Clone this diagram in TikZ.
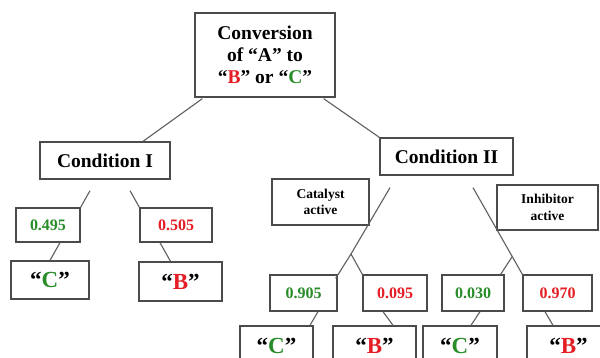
\documentclass[tikz,border=0pt]{standalone}
\usepackage{fontspec}
\setmainfont{Liberation Serif}
\usetikzlibrary{calc}
\definecolor{cgreen}{RGB}{40,140,40}
\definecolor{cred}{RGB}{228,30,36}
\definecolor{boxline}{RGB}{75,75,75}
\definecolor{conline}{RGB}{95,95,95}
\newcommand\gtxt[1]{\textcolor{cgreen}{#1}}
\newcommand\rtxt[1]{\textcolor{cred}{#1}}
\begin{document}
\begin{tikzpicture}[x=1pt,y=-1pt,
  box/.style={draw=boxline,line width=1.3pt,inner sep=0pt,align=center},
  bigfont/.style={font={\fontsize{19.5}{22}\selectfont\bfseries}},
  numfont/.style={font={\fontsize{16}{18}\selectfont\bfseries}},
  smallfont/.style={font={\fontsize{13.5}{16.5}\selectfont\bfseries}},
  quotefont/.style={font={\fontsize{23}{25}\selectfont\bfseries},text depth=0pt},
  numbox/.style={box,numfont,minimum height=36pt},
  resbox/.style={box,quotefont,minimum height=40pt},
  con/.style={draw=conline,line width=1.1pt}]
\useasboundingbox (0,0) rectangle (600,358);
\clip (0,0) rectangle (600,358);
\fill[white] (0,0) rectangle (600,358);

% top
\node[box,bigfont,minimum width=140pt,minimum height=84pt] (top) at (265,55)
  {Conversion\\of “A” to\\“\rtxt{B}” or “\gtxt{C}”};

% conditions
\node[box,bigfont,minimum width=130pt,minimum height=37pt] (condI) at (105,160.5) {Condition I};
\node[box,bigfont,minimum width=133pt,minimum height=37pt] (condII) at (446.5,156.5) {Condition II};

% side labels
\node[box,smallfont,minimum width=97pt,minimum height=46pt] (cat) at (320.5,202) {Catalyst\\active};
\node[box,smallfont,minimum width=101pt,minimum height=45pt] (inh) at (547.5,207.5) {Inhibitor\\active};

% condition I branch
\node[box,numfont,minimum width=64pt,minimum height=34pt] (n1) at (48,225) {\gtxt{0.495}};
\node[box,numfont,minimum width=72pt,minimum height=34pt] (n2) at (176,225) {\rtxt{0.505}};
\node[box,quotefont,minimum width=78pt,minimum height=38pt] (r1) at (50,280) {“\gtxt{C}”};
\node[box,quotefont,minimum width=83pt,minimum height=39pt] (r2) at (180.5,281.5) {“\rtxt{B}”};

% condition II branch
\node[numbox,minimum width=67pt] (n3) at (303.5,293) {\gtxt{0.905}};
\node[numbox,minimum width=64pt] (n4) at (395,293) {\rtxt{0.095}};
\node[numbox,minimum width=62pt] (n5) at (473,293) {\gtxt{0.030}};
\node[numbox,minimum width=69pt] (n6) at (557.5,293) {\rtxt{0.970}};
\node[resbox,minimum width=73pt] (r3) at (276.5,346) {“\gtxt{C}”};
\node[resbox,minimum width=83pt] (r4) at (374.5,346) {“\rtxt{B}”};
\node[resbox,minimum width=74pt] (r5) at (460,346) {“\gtxt{C}”};
\node[resbox,minimum width=83pt] (r6) at (568.5,346) {“\rtxt{B}”};

% connectors
\draw[con] ($(top.south west)+(8,1)$) -- ($(condI.north)+(38,0)$);
\draw[con] ($(top.south east)+(-12,1)$) -- (condII.north west);
\draw[con] ($(condI.south)+(-15,11)$) -- (n1.north east);
\draw[con] ($(condI.south)+(25,11)$) -- (n2.north west);
\draw[con] ($(n1.south)+(12,0)$) -- (r1.north);
\draw[con] ($(n2.south)+(-16,0)$) -- ($(r2.north)+(-10,0)$);

\coordinate (ap1) at (351,254);
\draw[con] ($(condII.south)+(-56.5,12)$) -- (ap1);
\draw[con] (ap1) -- ($(n3.north east)+(-2,4)$);
\draw[con] (ap1) -- (n4.north west);

\coordinate (s2) at ($(condII.south)+(26.5,12)$);
\draw[con] (s2) -- (n6.north west);
\coordinate (ap2) at ($(s2)!0.795!(n6.north west)$);
\draw[con] (ap2) -- ($(n5.north east)+(-4,0)$);

\draw[con] ($(n3.south)+(14.5,0)$) -- ($(r3.north)+(33.5,0)$);
\draw[con] ($(n4.south)+(-12,0)$) -- ($(r4.north)+(18.5,0)$);
\draw[con] ($(n5.south)+(7,0)$) -- ($(r5.north)+(11,0)$);
\draw[con] ($(n6.south)+(-12.5,0)$) -- ($(r6.north)+(-15.5,0)$);
\end{tikzpicture}
\end{document}
